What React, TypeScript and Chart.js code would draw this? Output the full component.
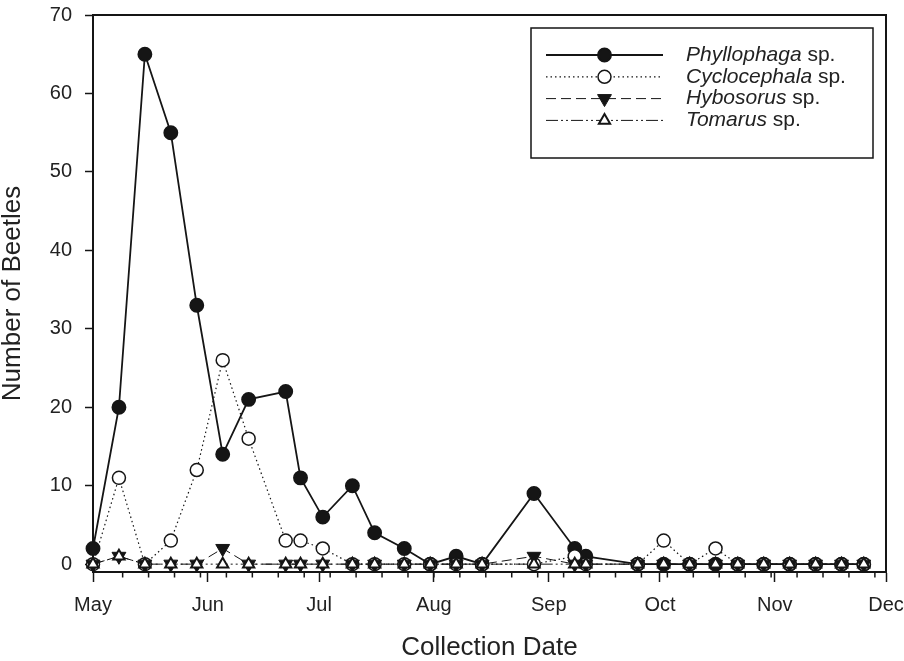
import React, { useEffect, useRef } from 'react';
import { Chart, registerables } from 'chart.js';

Chart.register(...registerables);

// Days counted from May 1
const collectionDays = [0, 7, 14, 21, 28, 35, 42, 52, 56, 62, 70, 76, 84, 91, 98, 105, 119, 130, 133, 147, 154, 161, 168, 174, 181, 188, 195, 202, 208];
const phyllophaga = [2, 20, 65, 55, 33, 14, 21, 22, 11, 6, 10, 4, 2, 0, 1, 0, 9, 2, 1, 0, 0, 0, 0, 0, 0, 0, 0, 0, 0];
const cyclocephala = [0, 11, 0, 3, 12, 26, 16, 3, 3, 2, 0, 0, 0, 0, 0, 0, 0, 1, 0, 0, 3, 0, 2, 0, 0, 0, 0, 0, 0];
const hybosorus = [0, 1, 0, 0, 0, 2, 0, 0, 0, 0, 0, 0, 0, 0, 0, 0, 1, 0, 0, 0, 0, 0, 0, 0, 0, 0, 0, 0, 0];
const tomarus = [0, 1, 0, 0, 0, 0, 0, 0, 0, 0, 0, 0, 0, 0, 0, 0, 0, 0, 0, 0, 0, 0, 0, 0, 0, 0, 0, 0, 0];

const monthTickDays = [0, 31, 61, 92, 123, 153, 184, 214];
const monthLabels = ['May', 'Jun', 'Jul', 'Aug', 'Sep', 'Oct', 'Nov', 'Dec'];
const minorTickDays = [8, 15, 22, 29, 36, 43, 50, 57, 64, 71, 78, 85, 92, 99, 106, 113, 120, 127, 134, 141, 148, 155, 162, 169, 176, 183, 190, 197, 204, 211];
const yTickValues = [0, 10, 20, 30, 40, 50, 60, 70];

const speciesNames = ['Phyllophaga', 'Cyclocephala', 'Hybosorus', 'Tomarus'];

const FONT = "'Liberation Sans', Arial, Helvetica, sans-serif";
const INK = '#151515';

function toPoints(values: number[]) {
  return values.map((v, i) => ({ x: collectionDays[i], y: v }));
}

function drawMarker(ctx: CanvasRenderingContext2D, ds: any, x: number, y: number) {
  ctx.save();
  ctx.setLineDash([]);
  ctx.fillStyle = ds.pointBackgroundColor;
  ctx.strokeStyle = ds.pointBorderColor;
  ctx.lineWidth = ds.pointBorderWidth;
  const r = ds.pointRadius;
  ctx.beginPath();
  if (ds.pointStyle === 'circle') {
    ctx.arc(x, y, r, 0, Math.PI * 2);
  } else {
    const rot = ((ds.pointRotation || 0) * Math.PI) / 180;
    let a = rot;
    ctx.moveTo(x + Math.sin(a) * r, y - Math.cos(a) * r);
    a += (2 * Math.PI) / 3;
    ctx.lineTo(x + Math.sin(a) * r, y - Math.cos(a) * r);
    a += (2 * Math.PI) / 3;
    ctx.lineTo(x + Math.sin(a) * r, y - Math.cos(a) * r);
    ctx.closePath();
  }
  ctx.fill();
  ctx.stroke();
  ctx.restore();
}

const framePlugin = {
  id: 'frameAndMinor',
  afterDraw(chart: any) {
    const { ctx, chartArea } = chart;
    const xs = chart.scales.x;
    ctx.save();
    // frame top & right
    ctx.strokeStyle = INK;
    ctx.lineWidth = 2;
    ctx.beginPath();
    ctx.moveTo(chartArea.left - 1, chartArea.top);
    ctx.lineTo(chartArea.right, chartArea.top);
    ctx.lineTo(chartArea.right, chartArea.bottom);
    ctx.stroke();
    // minor ticks
    ctx.lineWidth = 1.5;
    ctx.beginPath();
    minorTickDays.forEach((d) => {
      const px = xs.getPixelForValue(d);
      ctx.moveTo(px, chartArea.bottom);
      ctx.lineTo(px, chartArea.bottom + 5.5);
    });
    ctx.stroke();

    // legend
    const boxRight = chartArea.right - 13;
    const boxLeft = boxRight - 342;
    const boxTop = chartArea.top + 13;
    const boxBottom = boxTop + 130;
    ctx.lineWidth = 1.5;
    ctx.strokeStyle = INK;
    ctx.strokeRect(boxLeft, boxTop, boxRight - boxLeft, boxBottom - boxTop);
    const rowY0 = boxTop + 27;
    const rowStep = 21.8;
    chart.data.datasets.forEach((ds: any, i: number) => {
      const y = rowY0 + i * rowStep;
      const x1 = boxLeft + 15;
      const x2 = boxLeft + 132;
      ctx.save();
      ctx.strokeStyle = ds.borderColor;
      ctx.lineWidth = ds.borderWidth;
      ctx.setLineDash(ds.borderDash || []);
      ctx.beginPath();
      ctx.moveTo(x1, y);
      ctx.lineTo(x2, y);
      ctx.stroke();
      ctx.restore();
      drawMarker(ctx, ds, (x1 + x2) / 2, y);
      const tx = boxLeft + 155;
      ctx.fillStyle = '#222';
      ctx.textBaseline = 'middle';
      ctx.textAlign = 'left';
      ctx.font = `italic 21px ${FONT}`;
      ctx.fillText(speciesNames[i], tx, y);
      const w = ctx.measureText(speciesNames[i]).width;
      ctx.font = `21px ${FONT}`;
      ctx.fillText(' sp.', tx + w, y);
    });
    ctx.restore();
  },
};

function zeroPadding(scale: any) {
  scale.paddingTop = 0;
  scale.paddingBottom = 0;
  scale.paddingLeft = 0;
  scale.paddingRight = 0;
}

export default function App() {
  const canvasRef = useRef<HTMLCanvasElement | null>(null);

  useEffect(() => {
    if (!canvasRef.current) return;
    const chart = new Chart(canvasRef.current, {
      type: 'line',
      data: {
        datasets: [
          {
            label: 'Phyllophaga sp.',
            data: toPoints(phyllophaga),
            borderColor: INK,
            borderWidth: 1.8,
            pointStyle: 'circle',
            pointRadius: 6.7,
            pointBorderWidth: 1.5,
            pointBackgroundColor: INK,
            pointBorderColor: INK,
            order: 4,
            clip: false,
          },
          {
            label: 'Cyclocephala sp.',
            data: toPoints(cyclocephala),
            borderColor: INK,
            borderWidth: 1.2,
            borderDash: [1.5, 3],
            pointStyle: 'circle',
            pointRadius: 6.5,
            pointBorderWidth: 1.5,
            pointBackgroundColor: '#ffffff',
            pointBorderColor: INK,
            order: 3,
            clip: false,
          },
          {
            label: 'Hybosorus sp.',
            data: toPoints(hybosorus),
            borderColor: INK,
            borderWidth: 1,
            borderDash: [10, 5],
            pointStyle: 'triangle',
            pointRotation: 180,
            pointRadius: 8,
            pointBorderWidth: 1,
            pointBackgroundColor: INK,
            pointBorderColor: INK,
            order: 2,
            clip: false,
          },
          {
            label: 'Tomarus sp.',
            data: toPoints(tomarus),
            borderColor: INK,
            borderWidth: 1,
            borderDash: [12, 3, 2, 3, 2, 3],
            pointStyle: 'triangle',
            pointRadius: 6.5,
            pointBorderWidth: 2,
            pointBackgroundColor: '#ffffff',
            pointBorderColor: INK,
            order: 1,
            clip: false,
          },
        ] as any,
      },
      options: {
        animation: false,
        responsive: false,
        maintainAspectRatio: false,
        layout: { padding: { top: 15, right: 18, left: 0, bottom: 0 } },
        plugins: { legend: { display: false }, tooltip: { enabled: false } },
        elements: { line: { tension: 0 } },
        scales: {
          x: {
            type: 'linear',
            min: 0,
            max: 214,
            afterBuildTicks: (scale: any) => {
              scale.ticks = monthTickDays.map((v) => ({ value: v }));
            },
            afterFit: (scale: any) => {
              scale.height = 89;
              zeroPadding(scale);
            },
            ticks: {
              autoSkip: false,
              maxRotation: 0,
              padding: 11,
              color: '#222',
              font: { family: FONT, size: 20 },
              callback: (v: any) => {
                const idx = monthTickDays.indexOf(Number(v));
                return idx >= 0 ? monthLabels[idx] : '';
              },
            },
            grid: {
              drawOnChartArea: false,
              drawTicks: true,
              tickLength: 10,
              tickWidth: 1.5,
              tickColor: INK,
            },
            border: { display: true, color: INK, width: 2 },
            title: {
              display: true,
              text: 'Collection Date',
              color: '#222',
              font: { family: FONT, size: 26, lineHeight: 1 },
              padding: { top: 0, bottom: 0 },
            },
          },
          y: {
            type: 'linear',
            min: -1,
            max: 70,
            afterBuildTicks: (scale: any) => {
              scale.ticks = yTickValues.map((v) => ({ value: v }));
            },
            afterFit: (scale: any) => {
              scale.width = 93;
              zeroPadding(scale);
            },
            ticks: {
              padding: 13,
              color: '#222',
              font: { family: FONT, size: 20 },
            },
            grid: {
              drawOnChartArea: false,
              drawTicks: true,
              tickLength: 8,
              tickWidth: 1.5,
              tickColor: INK,
            },
            border: { display: true, color: INK, width: 2 },
            title: {
              display: true,
              text: 'Number of Beetles',
              color: '#222',
              font: { family: FONT, size: 26, lineHeight: 1 },
              padding: { top: 0, bottom: 0 },
            },
          },
        },
      },
      plugins: [framePlugin],
    });
    return () => chart.destroy();
  }, []);

  return (
    <div style={{ position: 'absolute', left: 0, top: 0, width: 904, height: 661 }}>
      <canvas ref={canvasRef} width={904} height={661} />
    </div>
  );
}
